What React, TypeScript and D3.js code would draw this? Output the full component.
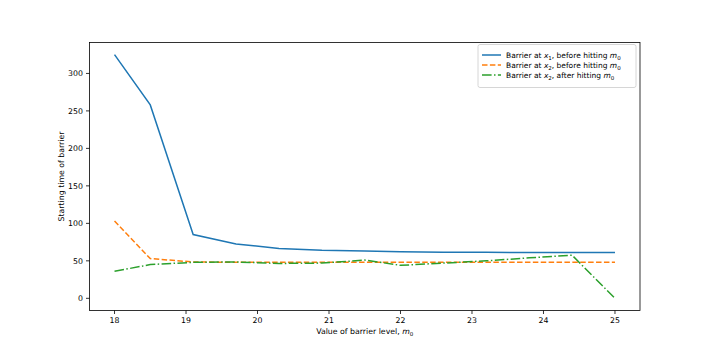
import React from 'react';
import * as d3 from 'd3';

// barrier levels m0 (x) and starting times (y)
const levels = [18, 18.5, 19.1, 19.7, 20.3, 20.9, 21.5, 22, 22.6, 23.2, 23.8, 24.4, 25];
const x1Before = [325, 258, 85, 72.5, 66.5, 64, 63, 62, 61.5, 61.5, 61, 61, 61];
const x2Before = [103, 53, 48.5, 48, 48, 48, 48, 48, 48, 48, 48, 48, 48];
const x2After = [36, 45, 48, 48.5, 46.5, 47, 51, 44, 47, 50, 54, 57.5, 0];
const xTicks = [18, 19, 20, 21, 22, 23, 24, 25];
const yTicks = [0, 50, 100, 150, 200, 250, 300];

const W = 711;
const H = 356;
const margin = { top: 42.5, right: 71, bottom: 45.5, left: 89.5 };
const font = 'DejaVu Sans, sans-serif';
const fs = 7.8;
const subFs = 5.5;

const series = [
  { values: x1Before, color: '#1f77b4', dash: '', sub: '1', after: false },
  { values: x2Before, color: '#ff7f0e', dash: '5.5,2.4', sub: '2', after: false },
  { values: x2After, color: '#2ca02c', dash: '9.6,2.4,1.5,2.4', sub: '2', after: true },
];

export default function App() {
  const x = d3
    .scaleLinear()
    .domain([17.65, 25.35])
    .range([margin.left, W - margin.right]);
  const y = d3
    .scaleLinear()
    .domain([-16.25, 341.25])
    .range([H - margin.bottom, margin.top]);

  const line = (vals: number[]) =>
    d3
      .line<number>()
      .x((_, i) => x(levels[i]))
      .y(d => y(d))(vals) || '';

  const x0 = margin.left;
  const x1 = W - margin.right;
  const y0 = H - margin.bottom;
  const y1 = margin.top;

  return (
    <svg width={W} height={H} style={{ position: 'absolute', left: 0, top: 0, background: '#fff' }}>
      <rect x={0} y={0} width={W} height={H} fill="#fff" />
      <defs>
        <clipPath id="plot">
          <rect x={x0} y={y1} width={x1 - x0} height={y0 - y1} />
        </clipPath>
      </defs>

      {/* lines */}
      <g clipPath="url(#plot)">
        {series.map((s, i) => (
          <path
            key={i}
            d={line(s.values)}
            fill="none"
            stroke={s.color}
            strokeWidth={1.5}
            strokeDasharray={s.dash || undefined}
          />
        ))}
      </g>

      {/* frame */}
      <rect x={x0} y={y1} width={x1 - x0} height={y0 - y1} fill="none" stroke="#000" strokeWidth={0.8} />

      {/* x ticks */}
      {xTicks.map(t => (
        <g key={t}>
          <line x1={x(t)} x2={x(t)} y1={y0} y2={y0 + 3.5} stroke="#000" strokeWidth={0.8} />
          <text x={x(t)} y={y0 + 12.5} fontSize={fs} fontFamily={font} textAnchor="middle" fill="#000">
            {t}
          </text>
        </g>
      ))}

      {/* y ticks */}
      {yTicks.map(t => (
        <g key={t}>
          <line x1={x0 - 3.5} x2={x0} y1={y(t)} y2={y(t)} stroke="#000" strokeWidth={0.8} />
          <text x={x0 - 6.5} y={y(t) + 2.9} fontSize={fs} fontFamily={font} textAnchor="end" fill="#000">
            {t}
          </text>
        </g>
      ))}

      {/* axis labels */}
      <text x={(x0 + x1) / 2} y={y0 + 23.5} fontSize={fs} fontFamily={font} textAnchor="middle" fill="#000">
        Value of barrier level, <tspan fontStyle="italic">m</tspan>
        <tspan fontSize={subFs} dy={2}>0</tspan>
      </text>
      <text
        transform={`translate(${x0 - 26}, ${(y0 + y1) / 2}) rotate(-90)`}
        fontSize={fs}
        fontFamily={font}
        textAnchor="middle"
        fill="#000"
      >
        Starting time of barrier
      </text>

      {/* legend */}
      <g>
        <rect x={478} y={44.5} width={158} height={43} rx={2} fill="#fff" fillOpacity={0.8} stroke="#ccc" strokeWidth={0.8} />
        {series.map((s, i) => {
          const ly = 55 + i * 10;
          return (
            <g key={i}>
              <line
                x1={482}
                x2={501}
                y1={ly}
                y2={ly}
                stroke={s.color}
                strokeWidth={1.5}
                strokeDasharray={s.dash || undefined}
              />
              <text x={506} y={ly + 2.8} fontSize={7.5} fontFamily={font} fill="#000">
                Barrier at <tspan fontStyle="italic">x</tspan>
                <tspan fontSize={subFs} dy={2}>{s.sub}</tspan>
                <tspan dy={-2}>, {s.after ? 'after' : 'before'} hitting </tspan>
                <tspan fontStyle="italic">m</tspan>
                <tspan fontSize={subFs} dy={2}>0</tspan>
              </text>
            </g>
          );
        })}
      </g>
    </svg>
  );
}
